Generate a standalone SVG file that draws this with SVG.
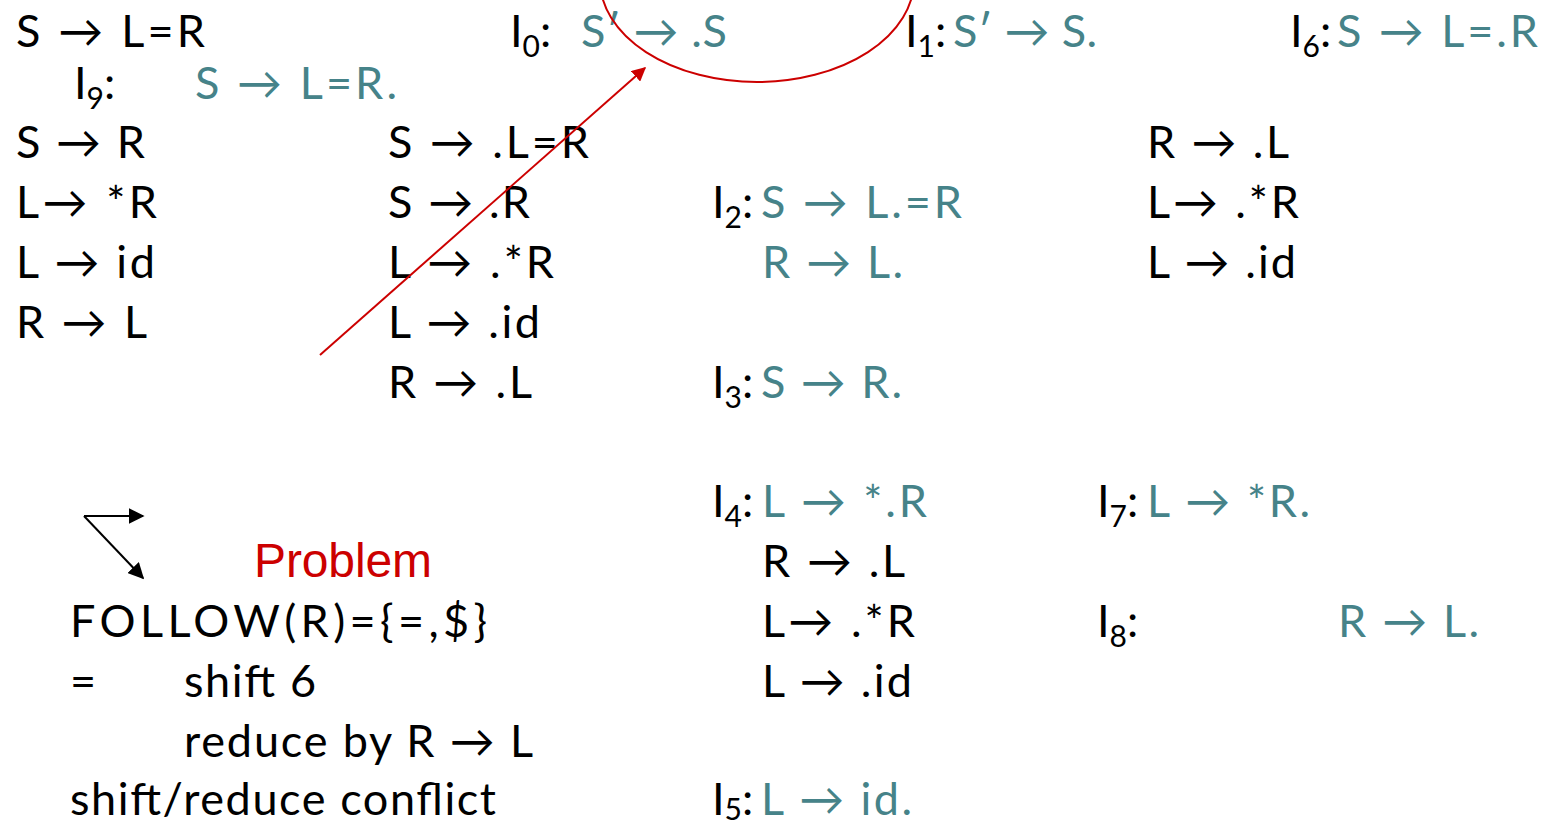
<svg xmlns="http://www.w3.org/2000/svg" width="1545" height="825" viewBox="0 0 1545 825">
<defs>
<style>
text{font-family:Lato,"Noto Sans","DejaVu Sans",sans-serif;font-size:45px;fill:#000}
.t{fill:#468389}
.sub{font-size:30px}
.red{fill:#cc0000;font-family:"Liberation Sans",Arial,sans-serif;font-size:48px}
</style>
<marker id="ar" viewBox="0 0 10 10" refX="9" refY="5" markerWidth="14" markerHeight="14" orient="auto" markerUnits="userSpaceOnUse"><path d="M0,0 L10,5 L0,10 z" fill="#cc0000"/></marker>
<marker id="ab" viewBox="0 0 10 10" refX="9" refY="5" markerWidth="8" markerHeight="8" orient="auto"><path d="M0,0 L10,5 L0,10 z" fill="#000"/></marker>
</defs>
<g id="grammar">
<text x="16" y="47" textLength="189" lengthAdjust="spacing">S → L=R</text>
<text x="16" y="158" textLength="129" lengthAdjust="spacing">S → R</text>
<text x="16" y="218" textLength="141" lengthAdjust="spacing">L→ *R</text>
<text x="16" y="278" textLength="139" lengthAdjust="spacing">L → id</text>
<text x="16" y="338" textLength="131" lengthAdjust="spacing">R → L</text>
</g>
<g id="I9"><text x="74" y="99">I<tspan class="sub" dy="10">9</tspan><tspan dy="-10">:</tspan></text><text class="t" x="195" y="99" textLength="202" lengthAdjust="spacing">S → L=R.</text></g>
<g id="I0">
<text x="510" y="47">I<tspan class="sub" dy="10">0</tspan><tspan dy="-10">:</tspan></text>
<text class="t" x="581" y="47" textLength="146" lengthAdjust="spacing">S′ → .S</text>
<text x="388" y="158" textLength="201" lengthAdjust="spacing">S → .L=R</text>
<text x="388" y="218" textLength="142" lengthAdjust="spacing">S → .R</text>
<text x="388" y="278" textLength="166" lengthAdjust="spacing">L → .*R</text>
<text x="388" y="338" textLength="152" lengthAdjust="spacing">L → .id</text>
<text x="388" y="398" textLength="144" lengthAdjust="spacing">R → .L</text>
</g>
<g id="I1"><text x="905" y="47">I<tspan class="sub" dy="10">1</tspan><tspan dy="-10">:</tspan></text><text class="t" x="953" y="47" textLength="144" lengthAdjust="spacing">S′ → S.</text></g>
<g id="I6">
<text x="1290" y="47">I<tspan class="sub" dy="10">6</tspan><tspan dy="-10">:</tspan></text><text class="t" x="1337" y="47" textLength="201" lengthAdjust="spacing">S → L=.R</text>
<text x="1147" y="158" textLength="142" lengthAdjust="spacing">R → .L</text>
<text x="1147" y="218" textLength="152" lengthAdjust="spacing">L→ .*R</text>
<text x="1147" y="278" textLength="149" lengthAdjust="spacing">L → .id</text>
</g>
<g id="I2">
<text x="712" y="218">I<tspan class="sub" dy="10">2</tspan><tspan dy="-10">:</tspan></text><text class="t" x="761" y="218" textLength="201" lengthAdjust="spacing">S → L.=R</text>
<text class="t" x="762" y="278" textLength="141" lengthAdjust="spacing">R → L.</text>
</g>
<g id="I3"><text x="712" y="398">I<tspan class="sub" dy="10">3</tspan><tspan dy="-10">:</tspan></text><text class="t" x="761" y="398" textLength="141" lengthAdjust="spacing">S → R.</text></g>
<g id="I4">
<text x="712" y="517">I<tspan class="sub" dy="10">4</tspan><tspan dy="-10">:</tspan></text><text class="t" x="762" y="517" textLength="165" lengthAdjust="spacing">L → *.R</text>
<text x="762" y="577" textLength="143" lengthAdjust="spacing">R → .L</text>
<text x="762" y="637" textLength="153" lengthAdjust="spacing">L→ .*R</text>
<text x="762" y="697" textLength="150" lengthAdjust="spacing">L → .id</text>
</g>
<g id="I7"><text x="1097" y="517">I<tspan class="sub" dy="10">7</tspan><tspan dy="-10">:</tspan></text><text class="t" x="1147" y="517" textLength="163" lengthAdjust="spacing">L → *R.</text></g>
<g id="I8"><text x="1097" y="637">I<tspan class="sub" dy="10">8</tspan><tspan dy="-10">:</tspan></text><text class="t" x="1338" y="637" textLength="141" lengthAdjust="spacing">R → L.</text></g>
<g id="I5"><text x="712" y="815">I<tspan class="sub" dy="5">5</tspan><tspan dy="-5">:</tspan></text><text class="t" x="761" y="815" textLength="151" lengthAdjust="spacing">L → id.</text></g>
<g id="problem">
<text class="red" x="254" y="577" textLength="178" lengthAdjust="spacing">Problem</text>
<text x="70" y="637" textLength="417" lengthAdjust="spacing">FOLLOW(R)={=,$}</text>
<text x="70" y="697">=</text>
<text x="184" y="697" textLength="132" lengthAdjust="spacing">shift 6</text>
<text x="184" y="757" textLength="349" lengthAdjust="spacing">reduce by R → L</text>
<text x="70" y="815" textLength="426" lengthAdjust="spacing">shift/reduce conflict</text>
</g>
<g id="connectors" fill="none">
<ellipse cx="757" cy="-20" rx="157" ry="102" stroke="#cc0000" stroke-width="2"/>
<line x1="320" y1="355" x2="645" y2="68" stroke="#cc0000" stroke-width="2" marker-end="url(#ar)"/>
<line x1="84" y1="516" x2="143" y2="516" stroke="#000" stroke-width="2" marker-end="url(#ab)"/>
<line x1="84" y1="516" x2="143" y2="578" stroke="#000" stroke-width="2" marker-end="url(#ab)"/>
</g>
</svg>
